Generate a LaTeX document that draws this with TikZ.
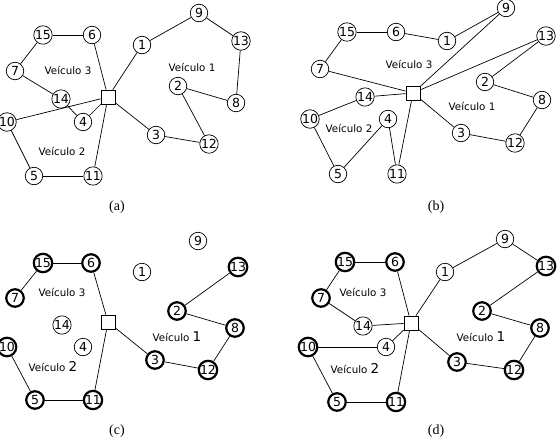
\documentclass[tikz,border=0pt]{standalone}
\usepackage{fontspec}
\setmainfont{Liberation Serif}
\newfontfamily\verd{DejaVu Sans}
\tikzset{cli/.style={circle,draw,line width=0.7pt,minimum size=17.5pt,inner sep=0pt,
                     fill=white,font=\verd\fontsize{12.5}{12.5}\selectfont},
         clibold/.style={cli,line width=2.2pt},
         depot/.style={rectangle,draw,line width=0.7pt,minimum size=14pt,inner sep=0pt,fill=white},
         veic/.style={font=\verd\fontsize{10.3}{11}\selectfont},
         legenda/.style={font=\fontsize{14}{14}\selectfont}}
\def\bignum#1{{\fontsize{13.5}{12}\selectfont #1}}

\begin{document}
\begin{tikzpicture}[x=1pt,y=-1pt,line width=0.7pt]
  \useasboundingbox (0,0) rectangle (557,442);

  % panel (a)
  \node[depot] (aD) at (108,97) {};
  \foreach \n/\x/\y in {1/142/45,2/178/86,3/156/135,4/83/122,5/34/176,6/92/35,7/15/71,
                        8/236/103,9/199/13,10/7/122,11/93/176,12/209/144,13/241/41,14/61/99,15/43/35}
    \node[cli] (a\n) at (\x,\y) {\n};
  \foreach \u/\v in {D/1,1/9,9/13,13/8,8/2,2/12,12/3,3/D,D/6,6/15,15/7,7/14,14/4,4/D,D/10,10/5,5/11,11/D}
    \draw (a\u) -- (a\v);
  \node[veic] (av3) at (68,70) {Veículo 3};
  \node[veic] (av1) at (192,67) {Veículo 1};
  \node[veic] (av2) at (62,151) {Veículo 2};
  \node[legenda] (acap) at (117,207) {(a)};

  % panel (b)
  \node[depot] (bD) at (413,93) {};
  \foreach \n/\x/\y in {1/447/41,2/485/82,3/461/133,4/388/119,5/338/174,6/396/32,7/320/69,
                        8/542/100,9/506/8,10/310/119,11/397/174,12/515/143,13/546/36,14/365/97,15/347/32}
    \node[cli] (b\n) at (\x,\y) {\n};
  \foreach \u/\v in {D/9,9/1,1/6,6/15,15/7,7/D,D/13,13/2,2/8,8/12,12/3,3/D,D/14,14/10,10/5,5/4,4/11,11/D}
    \draw (b\u) -- (b\v);
  \node[veic] (bv3) at (409,64) {Veículo 3};
  \node[veic] (bv1) at (472,106) {Veículo 1};
  \node[veic] (bv2) at (349,128) {Veículo 2};
  \node[legenda] (bcap) at (436,207) {(b)};

  % panel (c)
  \node[depot] (cD) at (108,322) {};
  \foreach \n/\x/\y in {1/142/272,4/83/347,9/198/241,14/62/325}
    \node[cli] (c\n) at (\x,\y) {\n};
  \foreach \n/\x/\y in {2/177/311,3/155/360,5/35/400,6/91/263,7/15/298,8/235/328,
                        10/7/347,11/93/400,12/208/370,13/238/267,15/43/263}
    \node[clibold] (c\n) at (\x,\y) {\n};
  \foreach \u/\v in {D/6,6/15,15/7,D/3,3/12,12/8,8/2,2/13,D/11,11/5,5/10}
    \draw (c\u) -- (c\v);
  \node[veic] (cv3) at (62,292) {Veículo 3};
  \node[veic] (cv1) at (177,337) {Veículo \bignum1};
  \node[veic] (cv2) at (53,367) {Veículo \bignum2};
  \node[legenda] (ccap) at (117,431) {(c)};

  % panel (d)
  \node[depot] (dD) at (411,323) {};
  \foreach \n/\x/\y in {1/445/272,4/386/347,9/505/239,14/363/326}
    \node[cli] (d\n) at (\x,\y) {\n};
  \foreach \n/\x/\y in {2/482/311,3/457/362,5/337/402,6/395/262,7/321/298,8/540/328,
                        10/308/347,11/396/402,12/514/370,13/546/266,15/345/262}
    \node[clibold] (d\n) at (\x,\y) {\n};
  \foreach \u/\v in {D/6,6/15,15/7,7/14,14/D,D/1,1/9,9/13,13/2,2/8,8/12,12/3,3/D,D/4,4/10,10/5,5/11,11/D}
    \draw (d\u) -- (d\v);
  \node[veic] (dv3) at (363,292) {Veículo 3};
  \node[veic] (dv1) at (481,337) {Veículo \bignum1};
  \node[veic] (dv2) at (355,369) {Veículo \bignum2};
  \node[legenda] (dcap) at (436,431) {(d)};
\end{tikzpicture}
\end{document}
